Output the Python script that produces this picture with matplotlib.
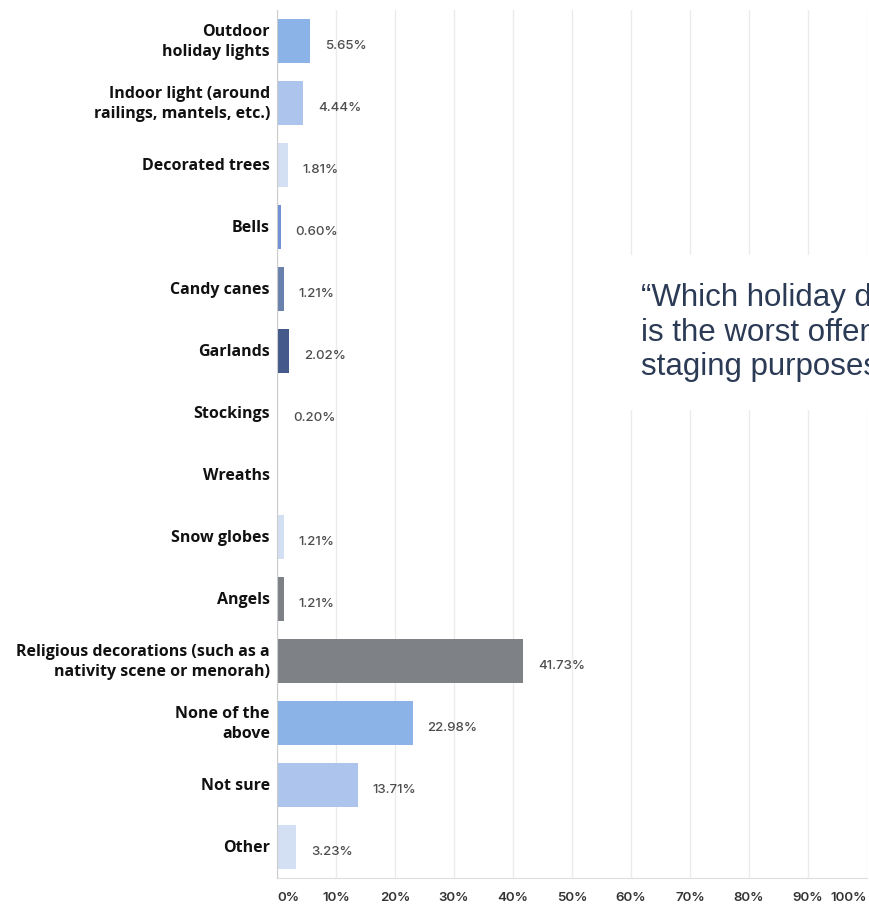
import matplotlib.pyplot as plt
from matplotlib.patches import Rectangle
from matplotlib.transforms import ScaledTranslation
import numpy as np

categories = [
    "Outdoor\nholiday lights",
    "Indoor light (around\nrailings, mantels, etc.)",
    "Decorated trees",
    "Bells",
    "Candy canes",
    "Garlands",
    "Stockings",
    "Wreaths",
    "Snow globes",
    "Angels",
    "Religious decorations (such as a\nnativity scene or menorah)",
    "None of the\nabove",
    "Not sure",
    "Other",
]
shares = [5.65, 4.44, 1.81, 0.60, 1.21, 2.02, 0.20, None, 1.21, 1.21, 41.73, 22.98, 13.71, 3.23]
bar_colors = [
    "#8cb3e8", "#adc5ec", "#d3e0f3", "#7191d6", "#6a80ad", "#455a8a", "#c9d6ea",
    "#ffffff", "#d3e0f3", "#7d8085", "#7e8186", "#8cb3e8", "#adc5ec", "#d3e0f3",
]
xticks = [0, 10, 20, 30, 40, 50, 60, 70, 80, 90, 100]
xtick_labels = [f"{t}%" for t in xticks]

question = "\u201cWhich holiday decoration\nis the worst offender for\nstaging purposes?\u201d"

W, H = 870, 906
fig = plt.figure(figsize=(W / 100, H / 100), dpi=100)
fig.patch.set_facecolor("white")
ax = fig.add_axes([277 / W, 1 - 878 / H, (867 - 277) / W, (878 - 10) / H])

y = np.arange(len(categories))
widths = [v if v is not None else 0 for v in shares]
ax.barh(y, widths, height=0.72, color=bar_colors, zorder=2)

for yi, v in zip(y, shares):
    if v is None:
        continue
    ax.text(v + 2.5, yi + 0.08, f"{v:.2f}%", va="center", ha="left",
            fontsize=9.6, color="#4d4d4d", family="Inter", fontweight="medium")

ax.set_xlim(0, 100)
ax.set_ylim(13.5, -0.5)

# category names, right-aligned just left of the axis
ax.set_yticks(y)
ax.set_yticklabels([])
ax.tick_params(axis="y", length=0)
shift = ScaledTranslation(-7 / 100, -1 / 100, fig.dpi_scale_trans)
for yi, name in zip(y, categories):
    ax.text(0, yi, name, ha="right", va="center", fontsize=11.5,
            fontweight="bold", family="Open Sans", color="#111111",
            linespacing=1.3, transform=ax.get_yaxis_transform() + shift)

ax.set_xticks(xticks)
ax.set_xticklabels(xtick_labels, fontsize=9.6, family="Inter", fontweight="semibold",
                   color="#333333")
ax.tick_params(axis="x", length=0, pad=10)
lbls = ax.get_xticklabels()
lbls[0].set_ha("left")
lbls[-1].set_ha("right")

ax.grid(axis="x", color="#ebebeb", linewidth=1, zorder=0)
ax.set_axisbelow(True)
for side in ["top", "right"]:
    ax.spines[side].set_visible(False)
ax.spines["left"].set_color("#cccccc")
ax.spines["bottom"].set_color("#dddddd")

# white panel behind the question text
fig.add_artist(Rectangle((605 / W, 1 - 410 / H), (W - 605) / W, 155 / H,
                         transform=fig.transFigure, facecolor="white",
                         edgecolor="none", zorder=5))
fig.text(641 / W, 1 - 283 / H, question, ha="left", va="top", fontsize=22.5,
         family="Liberation Sans", color="#2b3a55", linespacing=1.2, zorder=6)

fig.savefig("out.png", dpi=100)
